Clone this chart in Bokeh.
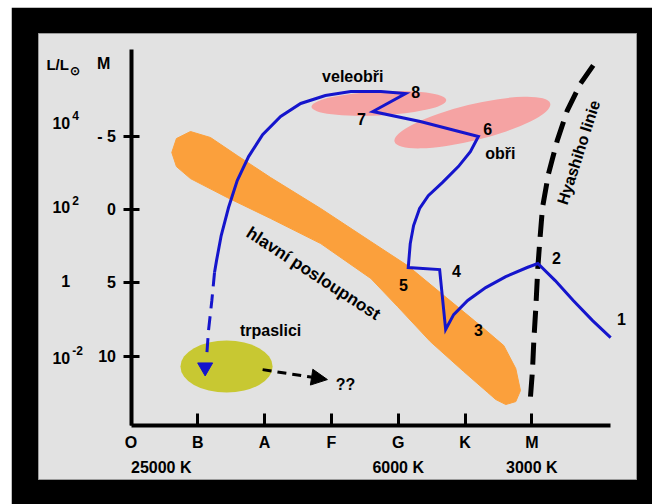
from bokeh.plotting import figure
from bokeh.models import Range1d, FixedTicker, ColumnDataSource, Arrow, NormalHead
from bokeh.core.properties import value
from bokeh.embed import file_html
from bokeh.resources import INLINE

FONT = value("Liberation Sans")

# ---- axes: spectral class (x) and absolute magnitude (y) ----
spectral_classes = ["O", "B", "A", "F", "G", "K", "M"]
class_pos = [0, 1, 2, 3, 4, 5, 6]
mag_ticks = [-5, 0, 5, 10]
mag_labels = ["- 5", "0", "5", "10"]
lum_base = ["10", "10", "1", "10"]
lum_exp = ["4", "2", "", "-2"]
lum_mag = [-5.93, -0.14, 4.84, 10.09]
temp_labels = ["25000 K", "6000 K", "3000 K"]
temp_pos = [0, 4, 6]
temp_align = ["left", "center", "center"]

# ---- main sequence band outline (class, magnitude) ----
ms_x = [0.68, 0.89, 1.19, 1.59, 2.09, 2.84, 3.59, 4.14, 4.63, 5.23, 5.58, 5.76, 5.83,
        5.76, 5.61, 5.46, 5.34, 4.98, 4.48, 3.99, 3.59, 2.84, 2.09, 1.44, 0.89, 0.68, 0.61]
ms_y = [-4.84, -5.32, -4.91, -3.68, -2.18, -0.07, 2.18, 3.82, 5.66, 7.91, 9.27, 10.84, 12.34,
        13.09, 13.29, 12.95, 12.47, 11.04, 9.00, 6.61, 4.70, 2.32, 0.61, -0.82, -2.11, -2.93, -3.89]

# ---- regions: supergiants, giants, white dwarfs ----
blob_x = [3.71, 5.11, 1.43]
blob_y = [-7.23, -5.93, 10.70]
blob_w = [2.02, 2.40, 1.38]
blob_h = [1.64, 2.45, 3.54]
blob_angle = [0.05, 0.24, 0.0]
blob_color = ["#f5a3a3", "#f5a3a3", "#c8c832"]

# ---- evolutionary track (solid part, from 1 to 8 and the arc) ----
track_x = [7.18, 6.91, 6.62, 6.35, 6.09, 5.93, 5.61, 5.31, 5.04, 4.83, 4.71, 4.62, 4.15,
           4.18, 4.23, 4.32, 4.45, 4.66, 4.90, 5.08, 5.20, 4.33, 3.62, 4.11, 3.74, 3.29,
           2.91, 2.54, 2.24, 1.97, 1.76, 1.59, 1.46, 1.35, 1.28, 1.25]
track_y = [8.73, 7.57, 6.20, 4.84, 3.68, 3.95, 4.57, 5.32, 6.20, 7.16, 8.18, 4.09, 3.95,
           2.32, 1.09, -0.07, -0.95, -1.84, -2.93, -3.95, -4.98, -6.00, -6.68, -7.91, -8.04, -8.04,
           -7.77, -7.23, -6.34, -5.11, -3.61, -1.98, -0.14, 1.77, 3.48, 4.29]
# dashed continuation toward the white dwarfs
dash_x = [1.25, 1.21, 1.16, 1.13]
dash_y = [4.29, 6.20, 8.25, 10.16]
arrow_tip_x = [1.11]
arrow_tip_y = [10.75]

# ---- Hayashi line ----
hay_x = [5.98, 6.01, 6.03, 6.06, 6.09, 6.12, 6.16, 6.25, 6.38, 6.53, 6.73, 6.97]
hay_y = [12.75, 10.97, 8.93, 6.68, 3.95, 2.11, -0.14, -2.45, -4.70, -6.75, -8.59, -10.16]

# ---- white dwarf cooling arrow ----
wd_arrow_start = (1.97, 10.91)
wd_arrow_end = (2.94, 11.59)

# ---- labels ----
region_names = ["veleobři", "obři", "trpaslici", "??"]
region_x = [3.32, 5.53, 2.09, 3.21]
region_y = [-9.07, -3.82, 8.25, 11.93]
stage_labels = ["1", "2", "3", "4", "5", "6", "7", "8"]
stage_x = [7.34, 6.37, 5.20, 4.87, 4.08, 5.34, 3.45, 4.26]
stage_y = [7.43, 3.27, 8.18, 4.16, 5.11, -5.52, -6.20, -7.98]

p = figure(width=641, height=497, output_backend="svg", toolbar_location=None,
           x_range=Range1d(-1.385, 7.567), y_range=Range1d(18.4, -12.0),
           min_border_left=27, min_border_right=16, min_border_top=26, min_border_bottom=25,
           border_fill_color="black", background_fill_color="#e2e2e2",
           outline_line_color="#9a9a9a")
p.margin = (7, 0, 0, 11)
p.grid.visible = False

# x axis
xa = p.xaxis[0]
xa.fixed_location = 14.72
xa.bounds = (0, 7.18)
xa.ticker = FixedTicker(ticks=class_pos)
xa.major_label_overrides = {c: s for c, s in zip(class_pos, spectral_classes)}
xa.axis_line_width = 4
xa.major_tick_line_width = 3
xa.major_tick_in = 12
xa.major_tick_out = 0
xa.minor_tick_line_color = None
xa.major_label_standoff = 8
xa.major_label_text_font = "Liberation Sans"
xa.major_label_text_font_style = "bold"
xa.major_label_text_font_size = "16px"
xa.major_label_text_color = "black"

# y axis
ya = p.yaxis[0]
ya.fixed_location = 0
ya.bounds = (-10.9, 14.72)
ya.ticker = FixedTicker(ticks=mag_ticks)
ya.major_label_overrides = {m: s for m, s in zip(mag_ticks, mag_labels)}
ya.axis_line_width = 4
ya.major_tick_line_width = 3
ya.major_tick_in = 8
ya.major_tick_out = 8
ya.minor_tick_line_color = None
ya.major_label_standoff = 7
ya.major_label_text_font = "Liberation Sans"
ya.major_label_text_font_style = "bold"
ya.major_label_text_font_size = "16px"
ya.major_label_text_color = "black"

# shapes
p.patch(ms_x, ms_y, fill_color="#fba03c", line_color="#fba03c", line_width=1)
p.ellipse(x=blob_x, y=blob_y, width=blob_w, height=blob_h, angle=blob_angle,
          fill_color=blob_color, line_color=None)

# Hayashi line
p.line(hay_x, hay_y, line_color="black", line_width=5, line_dash="22 10")

# track
p.line(track_x, track_y, line_color="#1515cc", line_width=3, line_join="miter")
p.line(dash_x, dash_y, line_color="#1515cc", line_width=3, line_dash="14 8")
p.scatter(arrow_tip_x, arrow_tip_y, marker="inverted_triangle", size=15,
          fill_color="#1515cc", line_color="#1515cc")

# white dwarf arrow
p.add_layout(Arrow(end=NormalHead(size=16, fill_color="black", line_color="black"),
                   x_start=wd_arrow_start[0], y_start=wd_arrow_start[1],
                   x_end=wd_arrow_end[0], y_end=wd_arrow_end[1],
                   line_color="black", line_width=3, line_dash="9 6"))

common = dict(text_font=FONT, text_font_style="bold", text_color="black",
              text_baseline="middle")

p.text(region_x, region_y, text=region_names, text_align="center", text_font_size="16px", **common)
p.text(stage_x, stage_y, text=stage_labels, text_align="center", text_font_size="16px", **common)
p.text([2.73], [4.36], text=["hlavní posloupnost"], angle=-0.576, text_align="center",
       text_font_size="17px", **common)
p.text([6.70], [-3.89], text=["Hyashiho linie"], angle=1.26, text_align="center",
       text_font_size="16px", **common)

# luminosity column
lum_x = [-0.91] * len(lum_base)
p.text(lum_x, lum_mag, text=lum_base, text_align="right", text_font_size="16px", **common)
p.text(lum_x, lum_mag, text=lum_exp, text_align="left", text_font_size="12px",
       x_offset=2, y_offset=-7, **common)
# header
p.text([-0.93], [-9.88], text=["L/L"], text_align="right", text_font_size="15px", **common)
p.text([-0.93], [-9.88], text=["⊙"], text_align="left", text_font_size="12px",
       x_offset=1, y_offset=6, **common)
p.text([-0.41], [-9.95], text=["M"], text_align="center", text_font_size="16px", **common)

# temperatures
temp_src = ColumnDataSource(dict(x=temp_pos, y=[17.59] * 3, t=temp_labels, a=temp_align))
p.text(x="x", y="y", text="t", text_align="a", source=temp_src, text_font_size="16px", **common)

open("out.html", "w").write(file_html(p, INLINE))
